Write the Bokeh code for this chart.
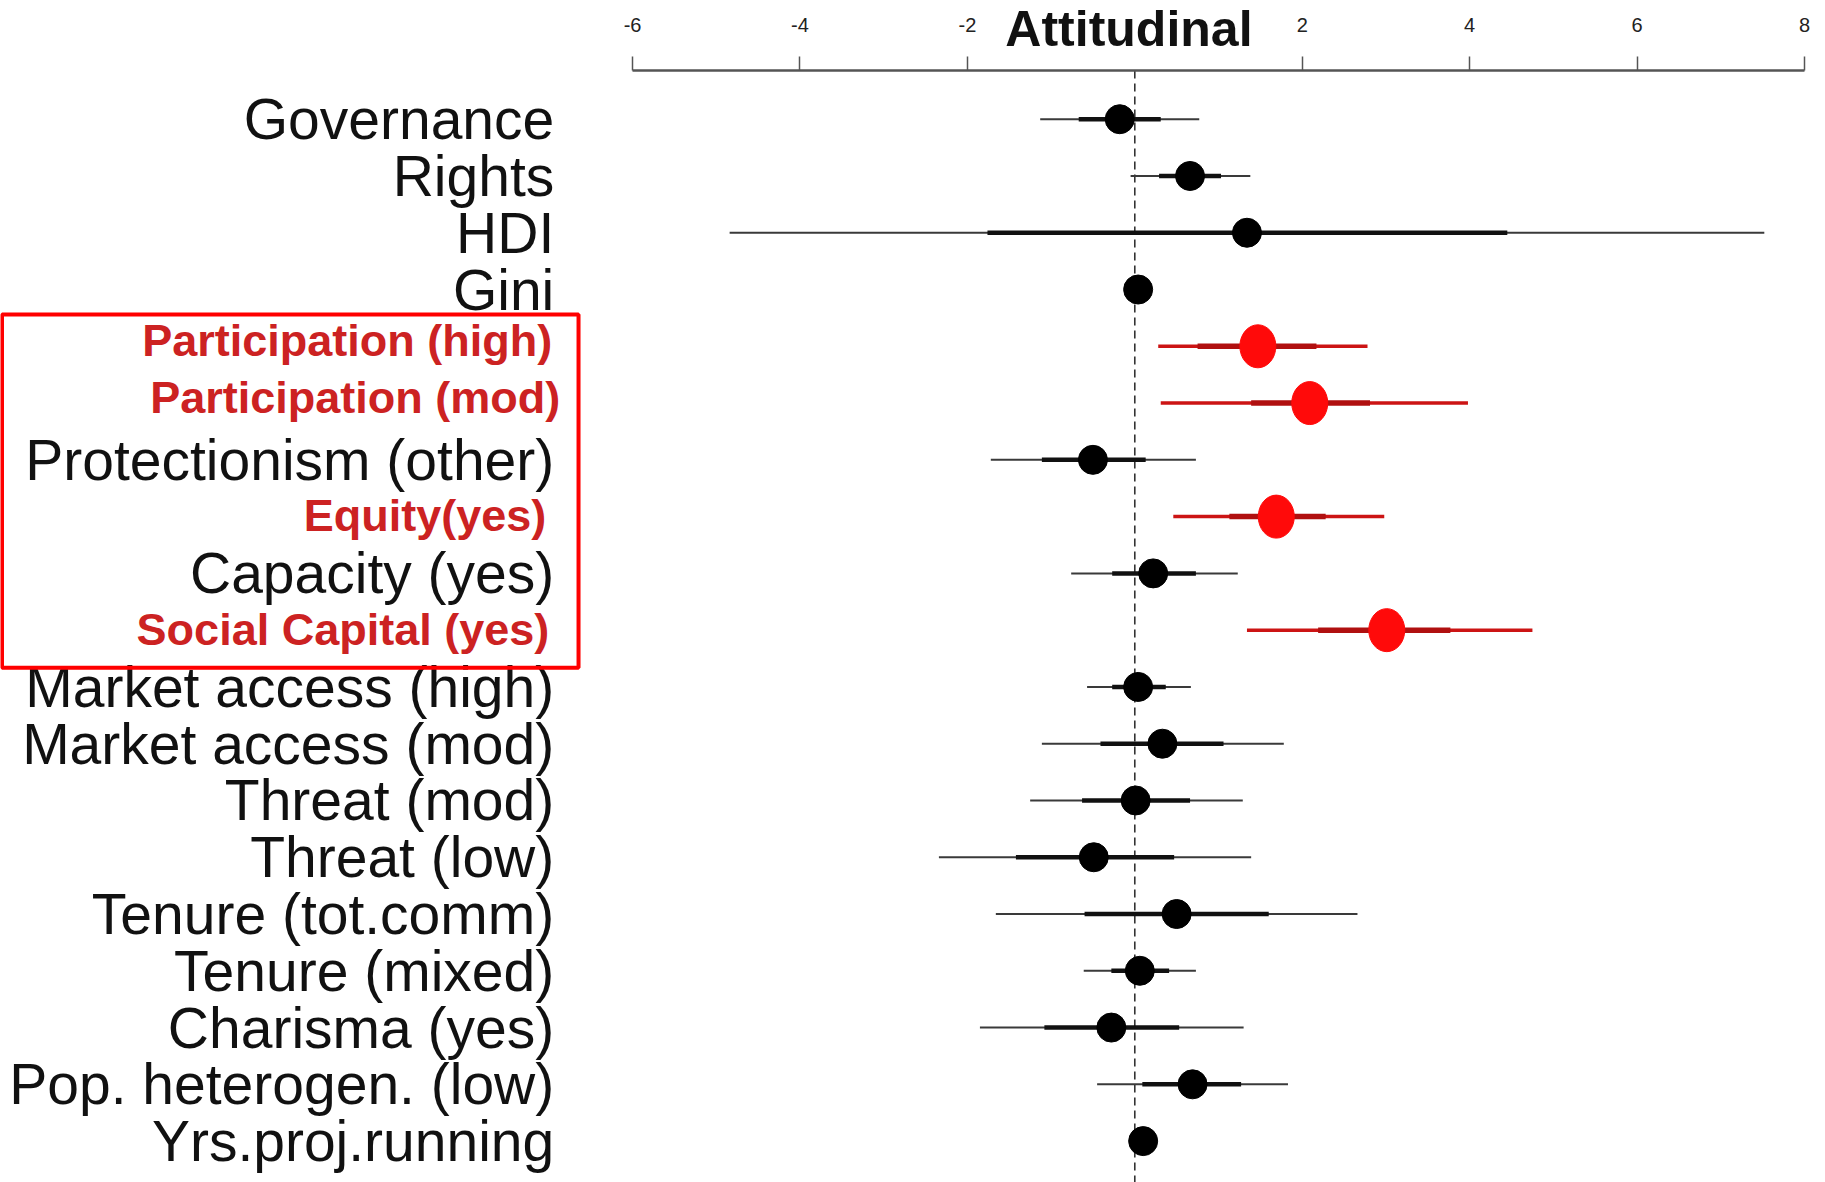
from bokeh.plotting import figure
from bokeh.models import ColumnDataSource, Range1d, FixedTicker, LinearAxis
from bokeh.core.properties import value
from bokeh.embed import file_html
from bokeh.resources import INLINE

# ---------------- data ----------------
labels = ["Governance", "Rights", "HDI", "Gini",
          "Participation (high)", "Participation (mod)", "Protectionism (other)",
          "Equity(yes)", "Capacity (yes)", "Social Capital (yes)",
          "Market access (high)", "Market access (mod)", "Threat (mod)",
          "Threat (low)", "Tenure (tot.comm)", "Tenure (mixed)",
          "Charisma (yes)", "Pop. heterogen. (low)", "Yrs.proj.running"]
highlight = [0, 0, 0, 0, 1, 1, 0, 1, 0, 1, 0, 0, 0, 0, 0, 0, 0, 0, 0]
estimate = [-0.18, 0.66, 1.34, 0.04, 1.47, 2.09, -0.50, 1.69, 0.22, 3.01,
            0.04, 0.33, 0.01, -0.49, 0.50, 0.06, -0.28, 0.69, 0.10]
inner_lo = [-0.67, 0.29, -1.76, 0.00, 0.75, 1.39, -1.11, 1.13, -0.27, 2.19,
            -0.27, -0.41, -0.63, -1.42, -0.60, -0.28, -1.08, 0.09, 0.06]
inner_hi = [0.31, 1.03, 4.45, 0.08, 2.17, 2.81, 0.13, 2.28, 0.73, 3.77,
            0.37, 1.06, 0.66, 0.47, 1.60, 0.41, 0.53, 1.27, 0.14]
outer_lo = [-1.13, -0.05, -4.84, -0.02, 0.28, 0.31, -1.72, 0.46, -0.76, 1.34,
            -0.57, -1.11, -1.25, -2.34, -1.66, -0.61, -1.85, -0.45, 0.04]
outer_hi = [0.77, 1.38, 7.52, 0.10, 2.78, 3.98, 0.73, 2.98, 1.23, 4.75,
            0.67, 1.78, 1.29, 1.39, 2.66, 0.73, 1.30, 1.83, 0.16]
tick_values = [-6, -4, -2, 2, 4, 6, 8]
title_text = "Attitudinal"

# small per-row nudges of the label text (pixels), style only
label_dx = [0, 0, 0, 0, -2, 6, 0, -8, 0, -5, 0, 0, 0, 0, 0, 0, 0, 0, 0]
label_dy = [0, 0, 0, 0, -6, -6, 0, -1, 0, -1, 0, 0, 0, 0, 0, 0, 0, 0, 0]

# ---------------- layout ----------------
W, H = 1825, 1182
rows = list(range(len(labels)))
axis_y = -0.858        # row-coordinate where the top axis line sits
y_top, y_bottom = -2.091, 18.729

p = figure(width=W, height=H, output_backend="svg", toolbar_location=None,
           x_range=Range1d(-13.55, 8.251), y_range=Range1d(y_bottom, y_top),
           x_axis_location=None, y_axis_location=None,
           min_border=0, background_fill_color="white",
           border_fill_color="white")
p.outline_line_color = None
p.grid.visible = False

ax = LinearAxis(fixed_location=axis_y, bounds=(-6, 8),
                ticker=FixedTicker(ticks=tick_values),
                major_label_overrides={t: str(t) for t in tick_values})
ax.axis_line_color = "#555555"
ax.axis_line_width = 2.5
ax.major_tick_line_color = "#555555"
ax.major_tick_line_width = 1.5
ax.major_tick_in = 0
ax.major_tick_out = 14
ax.minor_tick_line_color = None
ax.major_label_standoff = 25
ax.major_label_text_font = "Liberation Sans"
ax.major_label_text_font_size = "20px"
ax.major_label_text_color = "#222222"
p.add_layout(ax, "above")

# zero reference line (from the axis down)
p.segment(x0=[0], x1=[0], y0=[axis_y], y1=[y_bottom], line_color="#333333",
          line_width=1.6, line_dash="8 5")

# split series
def sel(flag):
    idx = [i for i in rows if highlight[i] == flag]
    return ColumnDataSource(dict(
        y=[rows[i] for i in idx],
        est=[estimate[i] for i in idx],
        ilo=[inner_lo[i] for i in idx], ihi=[inner_hi[i] for i in idx],
        olo=[outer_lo[i] for i in idx], ohi=[outer_hi[i] for i in idx],
        lab=[labels[i] for i in idx],
        dx=[label_dx[i] for i in idx], dy=[label_dy[i] for i in idx]))

src_k = sel(0)
src_r = sel(1)

# black series
p.segment(x0="olo", x1="ohi", y0="y", y1="y", source=src_k,
          line_color="#3a3a3a", line_width=2)
p.segment(x0="ilo", x1="ihi", y0="y", y1="y", source=src_k,
          line_color="#111111", line_width=4.5)
p.scatter(x="est", y="y", source=src_k, size=29, marker="circle",
          fill_color="black", line_color="black")

# red series
p.segment(x0="olo", x1="ohi", y0="y", y1="y", source=src_r,
          line_color="#cc1414", line_width=3.5)
p.segment(x0="ilo", x1="ihi", y0="y", y1="y", source=src_r,
          line_color="#b01010", line_width=5.5)
p.ellipse(x="est", y="y", source=src_r, width=36, height=43,
          width_units="screen", height_units="screen",
          fill_color="#ff0a0a", line_color="#ff0a0a")

# row labels
label_right = -6.935
p.text(x=label_right, y="y", text="lab", source=src_k,
       x_offset="dx", y_offset="dy",
       text_align="right", text_baseline="middle",
       text_font=value("Liberation Sans"), text_font_size=value("57px"),
       text_color="#111111")
p.text(x=label_right, y="y", text="lab", source=src_r,
       x_offset="dx", y_offset="dy",
       text_align="right", text_baseline="middle",
       text_font=value("Liberation Sans"), text_font_size=value("45px"),
       text_font_style="bold", text_color="#cc2222")

# highlight box around the participation block
p.quad(left=-13.532, right=-6.645, top=3.44, bottom=9.66,
       fill_color=None, line_color="#ff0000", line_width=4)

# title sitting in the axis band
p.text(x=[-0.07], y=[-1.59], text=[title_text], text_align="center",
       text_baseline="middle", text_font=value("Liberation Sans"),
       text_font_size=value("50px"), text_font_style="bold",
       text_color="#111111")

open("out.html", "w").write(file_html(p, INLINE))
